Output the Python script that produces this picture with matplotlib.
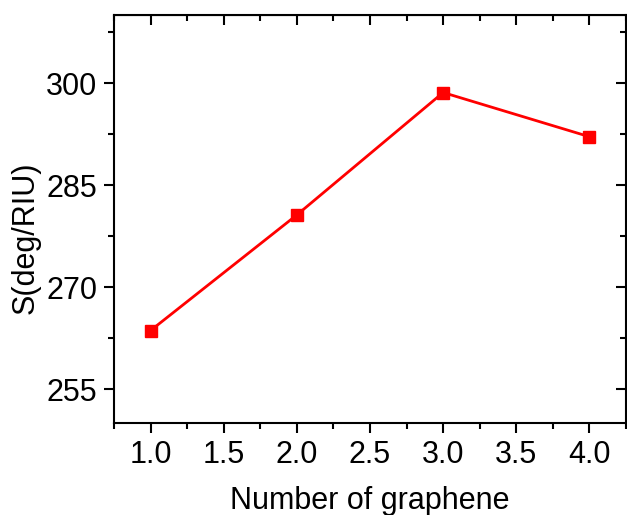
import matplotlib
matplotlib.use("Agg")
import matplotlib.pyplot as plt
from matplotlib.ticker import MultipleLocator

plt.rcParams['font.family'] = ['Liberation Sans', 'DejaVu Sans']

layers = [1, 2, 3, 4]
sensitivity = [263.6, 280.6, 298.6, 292.1]

fig = plt.figure(figsize=(6.27, 5.15), dpi=100)
ax = fig.add_axes([114/627, 1-423/515, (626-114)/627, (423-15)/515])
ax.plot(layers, sensitivity, color='red', lw=2, marker='s', ms=8, mec='red', mfc='red')
ax.set_xlim(0.75, 4.25)
ax.set_ylim(250, 310)
ax.xaxis.set_major_locator(MultipleLocator(0.5))
ax.xaxis.set_minor_locator(MultipleLocator(0.25))
ax.yaxis.set_major_locator(MultipleLocator(15))
ax.yaxis.set_minor_locator(MultipleLocator(7.5))
ax.set_yticks([255, 270, 285, 300])
ax.xaxis.set_major_formatter(matplotlib.ticker.FormatStrFormatter('%.1f'))
for s in ax.spines.values():
    s.set_linewidth(1.5)
ax.tick_params(which='both', direction='out', top=False, right=False, width=1.5, labelsize=22, pad=5)
ax.tick_params(which='major', length=7)
ax.tick_params(which='minor', length=4)
sec = ax.secondary_xaxis('top')
sec.xaxis.set_major_locator(MultipleLocator(0.5))
sec.xaxis.set_minor_locator(MultipleLocator(0.25))
sec.tick_params(which='both', direction='in', width=1.5, labeltop=False)
sec.tick_params(which='major', length=7)
sec.tick_params(which='minor', length=4)
secy = ax.secondary_yaxis('right')
secy.yaxis.set_major_locator(MultipleLocator(15))
secy.yaxis.set_minor_locator(MultipleLocator(7.5))
secy.tick_params(which='both', direction='in', width=1.5, labelright=False)
secy.tick_params(which='major', length=7)
secy.tick_params(which='minor', length=4)
ax.set_xlabel('Number of graphene', fontsize=22, labelpad=12)
ax.set_ylabel('S(deg/RIU)', fontsize=22)
ax.yaxis.set_label_coords(-0.143, 0.455)
fig.savefig('out.png', dpi=100)
